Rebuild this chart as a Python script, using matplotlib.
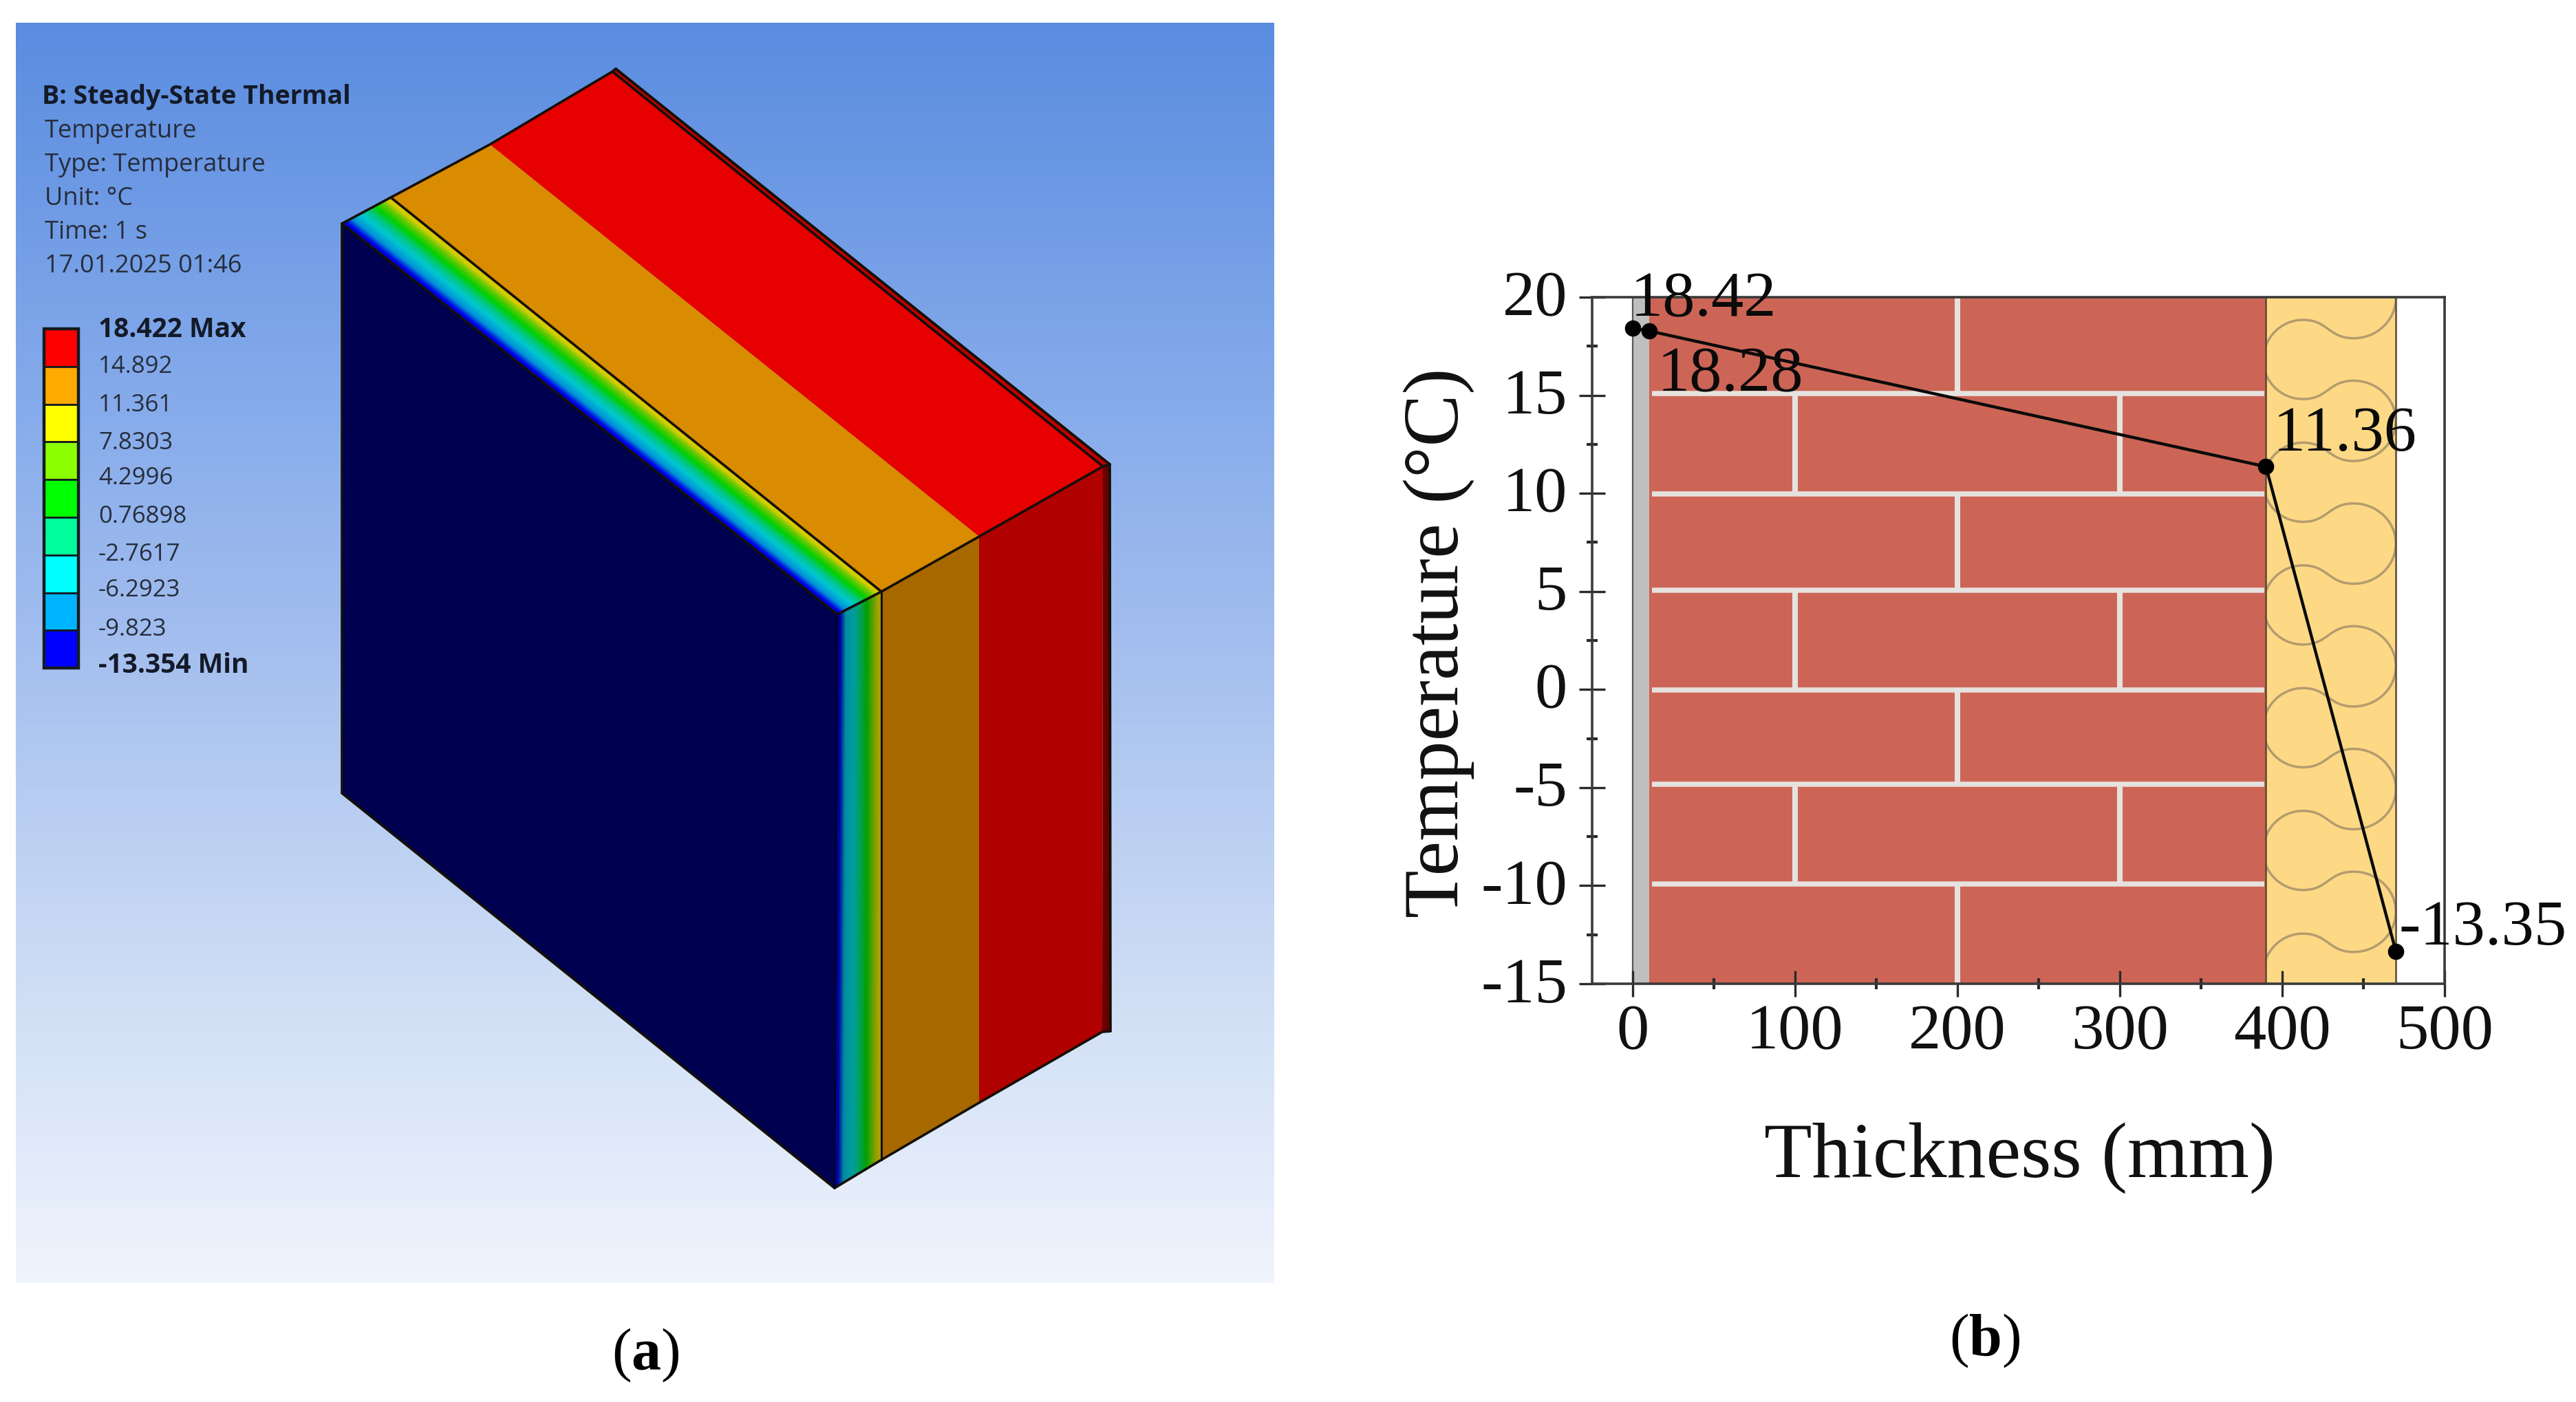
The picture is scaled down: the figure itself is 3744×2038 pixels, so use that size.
import numpy as np
import matplotlib
matplotlib.use("Agg")
import matplotlib.pyplot as plt
from matplotlib.collections import PolyCollection
from matplotlib.colors import to_rgb, LinearSegmentedColormap
from matplotlib.patches import Rectangle, PathPatch
from matplotlib.path import Path
from matplotlib.transforms import ScaledTranslation

# ---- data -------------------------------------------------------------
thickness_mm = [0, 10, 390, 470]
temperature_c = [18.42, 18.28, 11.36, -13.35]
point_labels = ["18.42", "18.28", "11.36", "-13.35"]
x_ticks = [0, 100, 200, 300, 400, 500]
x_minor = [50, 150, 250, 350, 450]
y_ticks = [-15, -10, -5, 0, 5, 10, 15, 20]
y_minor = [-12.5, -7.5, -2.5, 2.5, 7.5, 12.5, 17.5]
layer_edges = [0, 10, 390, 470]
mortar_rows = [15.08, 9.98, 5.07, -0.04, -4.83, -9.9]

header_lines = ["Temperature", "Type: Temperature", "Unit: \u00b0C", "Time: 1 s", "17.01.2025 01:46"]
legend_labels = ["18.422 Max", "14.892", "11.361", "7.8303", "4.2996", "0.76898",
                 "-2.7617", "-6.2923", "-9.823", "-13.354 Min"]
legend_colors = ["#ff0000", "#ffaa00", "#ffff00", "#8cff00", "#00ff00",
                 "#00ff9c", "#00ffff", "#00b4ff", "#0000ff"]

W, H = 3744, 2038
plt.rcParams['mathtext.fontset'] = 'custom'
plt.rcParams['mathtext.rm'] = 'Liberation Serif'
plt.rcParams['mathtext.bf'] = 'Liberation Serif:bold'
SERIF = 'Liberation Serif'
SANS = 'Open Sans'

fig = plt.figure(figsize=(W / 100, H / 100), dpi=100, facecolor='white')

# ---- panel (a): full-figure pixel canvas -------------------------------
bg = fig.add_axes([0, 0, 1, 1])
bg.set_xlim(0, W)
bg.set_ylim(H, 0)
bg.axis('off')

grad = LinearSegmentedColormap.from_list('g', [
    (0.00, (90/255, 140/255, 224/255)),
    (0.31, (135/255, 172/255, 235/255)),
    (0.47, (160/255, 188/255, 238/255)),
    (0.77, (207/255, 222/255, 245/255)),
    (1.00, (240/255, 244/255, 253/255))])
bg.imshow(np.linspace(0, 1, 512)[:, None], cmap=grad, aspect='auto',
          extent=[23, 1852, 1865, 33], zorder=0)
bg.set_xlim(0, W)
bg.set_ylim(H, 0)


def poly(pts, color, z=2):
    bg.fill([p[0] for p in pts], [p[1] for p in pts], color=color, lw=0, zorder=z)


def seg(p, q, color='#141008', lw=2.6, z=4):
    bg.plot([p[0], q[0]], [p[1], q[1]], color=color, lw=lw, zorder=z, solid_capstyle='round')


def chain(pts, color='#141008', lw=2.6, z=4):
    bg.plot([p[0] for p in pts], [p[1] for p in pts], color=color, lw=lw, zorder=z,
            solid_capstyle='round', solid_joinstyle='round')


def lerp(p, q, t):
    return (p[0] + (q[0] - p[0]) * t, p[1] + (q[1] - p[1]) * t)


back = [(497, 325), (568, 287), (712, 210), (890, 104), (895, 100)]
front = [(1217, 893), (1281, 860), (1423, 780), (1603, 678), (1613, 675)]
bottom = [(1213, 1727), (1281, 1686), (1423, 1603), (1602, 1500), (1614, 1499)]
left_low = (497, 1153)

poly([back[0], front[0], bottom[0], left_low], '#000050')
poly([back[2], back[3], front[3], front[2]], '#e60000')
poly([back[3], back[4], front[4], front[3]], '#c00000')
poly([back[1], back[2], front[2], front[1]], '#d98c00')
poly([front[1], front[2], bottom[2], bottom[1]], '#a86800')
poly([front[2], front[3], bottom[3], bottom[2]], '#b00000')
poly([front[3], front[4], bottom[4], bottom[3]], '#680000')

stops = [0, .08, .2, .38, .52, .68, .82, .93, 1]
top_cols = ['#0000c8', '#0000e6', '#0090d8', '#00c8d0', '#00c88c', '#00d000', '#68c800', '#d8d000', '#d8c000']
side_cols = ['#000090', '#0000a0', '#008ca0', '#009ca0', '#00a060', '#00a000', '#60a000', '#a8a000', '#a8a000']


def band(cols, a0, a1, b0, b1):
    rgb = np.array([to_rgb(c) for c in cols])
    n = 60
    ts = np.linspace(0, 1, n + 1)
    verts, fc = [], []
    for i in range(n):
        t0, t1 = ts[i], ts[i + 1]
        verts.append([lerp(a0, a1, t0), lerp(a0, a1, t1), lerp(b0, b1, t1), lerp(b0, b1, t0)])
        mid = (t0 + t1) / 2
        fc.append([np.interp(mid, stops, rgb[:, k]) for k in range(3)])
    bg.add_collection(PolyCollection(verts, facecolors=fc, edgecolors=fc, linewidths=0.6, zorder=2))


band(top_cols, back[0], back[1], front[0], front[1])
band(side_cols, front[0], front[1], bottom[0], bottom[1])

seg(back[0], front[0])
seg(back[1], front[1])
seg(back[3], front[3], lw=2.6)
seg(back[4], front[4], lw=2.8)
chain(back)
chain(front)
seg(front[1], bottom[1], lw=2.2)
seg(back[0], left_low)
seg(left_low, bottom[0])
chain(bottom)
seg(front[4], bottom[4], lw=2.6)
seg(front[0], bottom[0], color='#000030', lw=2.0)

# legend
txt = '#262d3c'
bg.text(61, 151, "B: Steady-State Thermal", family=SANS, weight='bold', fontsize=27,
        color='#141a28', va='baseline', ha='left', zorder=6)
for line, yb in zip(header_lines, [200, 249, 298, 347, 396]):
    bg.text(65, yb, line, family=SANS, fontsize=26, color=txt, va='baseline', ha='left', zorder=6)

bar_top, bar_cell = 478, 54.8
for i, c in enumerate(legend_colors):
    bg.add_patch(Rectangle((64, bar_top + i * bar_cell), 50, bar_cell, facecolor=c,
                           edgecolor='#141a20', lw=2.0, zorder=5))
bg.add_patch(Rectangle((64, bar_top), 50, 9 * bar_cell, facecolor='none',
                       edgecolor='#141a20', lw=3.2, zorder=5))
for lab, yb in zip(legend_labels, [490, 542, 598, 653, 704, 760, 815, 867, 924, 978]):
    bold = 'M' in lab
    bg.text(143, yb, lab, family=SANS, fontsize=28 if bold else 25,
            weight='bold' if bold else 'normal', color='#141a28' if bold else txt,
            va='baseline', ha='left', zorder=6)

bg.text(938, 1991, "(" + r"$\mathbf{a}$" + ")", family=SERIF, fontsize=62, ha='center', va='baseline')
bg.text(2885, 1970, "(" + r"$\mathbf{b}$" + ")", family=SERIF, fontsize=62, ha='center', va='baseline')

# ---- panel (b) ---------------------------------------------------------
ax = fig.add_axes([2314 / W, 1 - 1430 / H, (3553 - 2314) / W, (1430 - 432) / H], facecolor='none')
ax.set_xlim(-25, 500)
ax.set_ylim(-15, 20)
edge = '#5a4a30'
x0, x1, x2, x3 = layer_edges
ax.add_patch(Rectangle((x0, -15), x1 - x0, 35, facecolor='#bfbfbf', edgecolor='none', zorder=1))
ax.plot([x0, x0], [-15, 20], color='#555555', lw=1.6, zorder=1.5)
ax.add_patch(Rectangle((x1, -15), x2 - x1, 35, facecolor='#cd6556', edgecolor='none', zorder=1))
ins = Rectangle((x2, -15), x3 - x2, 35, facecolor='#fdd985', edgecolor='none', zorder=1)
ax.add_patch(ins)
ax.plot([x2, x2], [-15, 20], color=edge, lw=1.8, zorder=2.5)
ax.plot([x3, x3], [-15, 20], color=edge, lw=1.8, zorder=2.5)

mortar = '#e6e2df'
for yv in mortar_rows:
    ax.plot([x1 + 2, x2 - 1], [yv, yv], color=mortar, lw=5.4, solid_capstyle='butt', zorder=2)
row_tops = [20] + mortar_rows
row_bots = mortar_rows + [-15]
for i, (t, b) in enumerate(zip(row_tops, row_bots)):
    xs = [200] if i % 2 == 0 else [100, 300]
    for xv in xs:
        ax.plot([xv, xv], [b, t], color=mortar, lw=5.8, solid_capstyle='butt', zorder=2)


# insulation wave, drawn in offsets within the layer
def wx(z):
    return x2 + (z - 130) / 563 * (x3 - x2)


def wy(v):
    return 20 - (420 + v / 3 - 432) / 28.5


period = 535
ka = 0.55
verts, codes = [], []
for k in range(-2, 6):
    o = k * period
    pts = [
        (118, 310 + o),
        (118, 310 + o + ka * 170), (290 - ka * 172, 480 + o), (290, 480 + o),
        (400, 480 + o), (400, 400 + o), (510, 400 + o),
        (510 + ka * 183, 400 + o), (693, 575 + o - ka * 175), (693, 575 + o),
        (693, 575 + o + ka * 175), (510 + ka * 183, 750 + o), (510, 750 + o),
        (400, 750 + o), (400, 670 + o), (290, 670 + o),
        (290 - ka * 172, 670 + o), (118, 845 + o - ka * 175), (118, 845 + o),
    ]
    for j, (zx, zv) in enumerate(pts):
        if j == 0 and k > -2:
            continue
        verts.append((wx(zx), wy(zv)))
        codes.append(Path.MOVETO if (j == 0) else Path.CURVE4)
wave = PathPatch(Path(verts, codes), facecolor='none', edgecolor='#b39c6e', lw=2.5, zorder=1.8)
ax.add_patch(wave)
wave.set_clip_path(ins)

ax.plot(thickness_mm, temperature_c, color='#0a0a0a', lw=3.2, marker='o', ms=16,
        mfc='black', mec='black', zorder=5, clip_on=False)

label_px = [(2370, 459), (2409, 568), (3304, 655), (3486, 1373)]
for lab, (px, py) in zip(point_labels, label_px):
    bg_x = (px - 2314) / (3553 - 2314)
    bg_y = (1430 - py) / (1430 - 432)
    ax.text(bg_x, bg_y, lab, transform=ax.transAxes, family=SERIF, fontsize=68, color='#0a0a0a',
            ha='left', va='baseline', zorder=6, clip_on=False)

ax.set_xticks(x_ticks)
ax.set_yticks(y_ticks)
ax.set_xticks(x_minor, minor=True)
ax.set_yticks(y_minor, minor=True)
ax.set_xticklabels([str(v) for v in x_ticks], family=SERIF, fontsize=68, color='#111111')
ax.set_yticklabels([str(v) for v in y_ticks], family=SERIF, fontsize=68, color='#111111')
ax.tick_params(which='major', direction='inout', length=28, width=2.4, color='#2a2a2a', pad=7)
ax.tick_params(which='minor', direction='inout', length=11, width=3.0, color='#2a2a2a')
ax.tick_params(axis='y', which='major', pad=12)
up = ScaledTranslation(0, 6 / 100, fig.dpi_scale_trans)
for lb in ax.get_yticklabels():
    lb.set_transform(lb.get_transform() + up)
for s in ax.spines.values():
    s.set_linewidth(2.6)
    s.set_color('#3a3a3a')
    s.set_zorder(4)
for tk in ax.xaxis.get_major_ticks() + ax.xaxis.get_minor_ticks() + \
        ax.yaxis.get_major_ticks() + ax.yaxis.get_minor_ticks():
    tk.set_zorder(4)

bg.text(2935, 1711, "Thickness (mm)", family=SERIF, fontsize=82, ha='center', va='baseline', color='#111111')
bg.text(2091, 934, "Temperature (\u00b0C)", family=SERIF, fontsize=82, rotation=90,
        ha='center', va='center', color='#111111')

fig.savefig('out.png', dpi=100)
